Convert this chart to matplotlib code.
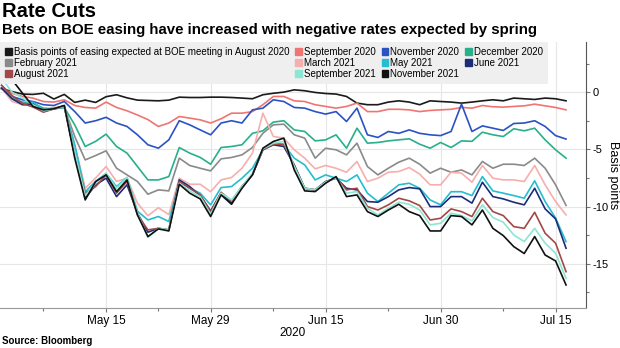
import pandas as pd
import matplotlib
matplotlib.use('Agg')
import matplotlib.pyplot as plt
import matplotlib.patches as mpatches
from matplotlib.ticker import FixedLocator, MultipleLocator

plt.rcParams['font.family'] = ['Liberation Sans Narrow', 'Liberation Sans', 'DejaVu Sans']
plt.rcParams['axes.unicode_minus'] = False

# business days 1 May - 16 Jul 2020
dates = pd.bdate_range('2020-05-01', '2020-07-16')
tick_dates = ['2020-05-15', '2020-05-29', '2020-06-15', '2020-06-30', '2020-07-15']
tick_labels = ['May 15', 'May 29', 'Jun 15', 'Jun 30', 'Jul 15']
minor_dates = ['2020-05-07', '2020-05-22', '2020-06-08', '2020-06-23', '2020-07-08']

aug20 = [0.3, 0.05, -0.17, -0.2, -0.1, -0.6, -0.2, -0.9, -0.7, -0.9, -0.4, -0.23, -0.5, -0.7, -0.73, -0.76, -0.7, -0.44, -0.47,
         -0.47, -0.44, -0.44, -0.47, -0.52, -0.58, -0.23, -0.1, 0.0, 0.2, 0.12, -0.03, -0.12, -0.17, -0.38, -0.96, -1.1, -1.1, -0.87,
         -0.76, -0.87, -1.1, -0.76, -0.82, -0.87, -0.96, -0.87, -0.76, -0.67, -0.76, -0.52, -0.58, -0.64, -0.52, -0.58, -0.76]
sep20 = [0.35, -0.1, -0.38, -0.52, -0.82, -0.87, -0.67, -1.17, -1.34, -1.4, -0.87, -1.34, -1.63, -2.0, -2.4, -3.0, -2.7, -2.13, -2.27,
         -2.42, -2.7, -2.33, -1.84, -1.84, -1.7, -1.1, -0.38, -0.38, -0.76, -0.82, -1.1, -1.25, -1.4, -1.25, -0.96, -1.7, -1.7, -1.5,
         -1.5, -1.55, -1.7, -1.6, -1.55, -1.5, -1.34, -1.4, -1.17, -1.28, -1.31, -1.25, -1.2, -1.05, -1.2, -1.34, -1.55]
nov20 = [0.35, -0.38, -0.67, -0.82, -1.1, -1.17, -0.82, -1.7, -2.7, -2.5, -2.2, -2.7, -3.0, -3.73, -4.6, -4.9, -4.17, -2.5, -2.86,
         -3.3, -3.73, -2.7, -2.5, -2.7, -1.55, -1.4, -0.67, -0.82, -1.34, -1.4, -1.7, -1.92, -1.7, -2.57, -1.4, -3.73, -3.96, -3.44,
         -3.6, -3.3, -3.6, -3.73, -3.8, -3.44, -1.05, -3.44, -2.95, -3.15, -3.35, -2.74, -2.7, -2.5, -3.0, -3.8, -4.1]
dec20 = [0.35, -0.52, -0.87, -0.96, -1.4, -1.46, -1.34, -2.86, -4.75, -4.3, -3.67, -4.75, -5.33, -6.5, -7.67, -7.67, -7.38, -4.84, -5.33,
         -5.7, -6.3, -4.84, -4.75, -4.6, -3.6, -3.38, -2.62, -2.5, -3.3, -3.44, -4.26, -4.17, -3.73, -4.9, -3.15, -4.46, -4.4, -4.26,
         -4.17, -4.08, -4.55, -4.9, -4.4, -4.84, -4.26, -4.3, -3.5, -3.73, -3.88, -3.2, -3.38, -3.15, -4.17, -5.04, -5.77]
feb21 = [0.35, -0.58, -0.96, -1.17, -1.55, -1.46, -1.34, -3.88, -5.92, -5.54, -5.13, -6.65, -7.23, -7.81, -8.92, -8.54, -8.63, -5.77, -6.41,
         -6.65, -6.88, -5.83, -5.71, -5.48, -4.84, -3.59, -2.86, -2.8, -3.73, -4.02, -5.77, -4.9, -5.04, -5.48, -4.46, -6.5, -7.23, -6.65,
         -6.12, -5.77, -6.3, -7.08, -6.65, -7.0, -6.8, -7.23, -6.06, -6.65, -6.3, -6.3, -6.41, -5.77, -6.65, -8.1, -9.9]
mar21 = [0.35, -0.82, -1.1, -1.17, -1.55, -1.34, -1.25, -4.6, -8.4, -7.5, -6.5, -7.81, -7.52, -9.7, -10.8, -10.1, -10.7, -7.52, -8.05,
         -8.05, -8.7, -7.67, -7.46, -6.65, -5.33, -1.84, -3.88, -4.02, -5.04, -5.77, -6.7, -6.41, -6.65, -7.0, -6.06, -7.81, -7.52, -7.0,
         -6.94, -6.59, -7.17, -8.1, -8.1, -7.0, -7.08, -7.87, -6.41, -7.52, -7.67, -7.67, -7.81, -6.41, -8.1, -9.56, -10.73]
may21 = [0.6, -0.38, -1.05, -0.87, -1.55, -1.4, -1.34, -4.6, -8.7, -7.8, -7.1, -8.25, -7.46, -10.4, -11.17, -10.87, -11.3, -7.81, -8.4,
         -8.83, -9.85, -8.34, -8.25, -7.52, -6.65, -5.04, -4.46, -4.6, -5.77, -6.36, -7.67, -7.23, -7.52, -7.81, -7.23, -8.83, -9.56, -8.83,
         -8.1, -7.96, -8.4, -9.42, -9.85, -8.7, -8.7, -9.04, -7.38, -8.63, -8.83, -9.04, -9.27, -7.75, -9.56, -11.0, -13.06]
jun21 = [0.35, -0.58, -1.1, -1.05, -1.7, -1.46, -1.17, -5.48, -9.27, -8.1, -7.52, -9.13, -8.1, -10.58, -12.24, -11.9, -12.04, -7.67, -8.25,
         -9.04, -10.38, -8.83, -9.7, -8.25, -7.23, -5.04, -4.6, -4.75, -6.36, -8.4, -8.54, -7.81, -7.52, -8.4, -8.54, -9.56, -9.62, -9.13,
         -8.54, -8.34, -8.45, -10.0, -10.0, -9.13, -9.13, -9.7, -7.87, -9.13, -9.33, -9.62, -9.85, -8.4, -10.2, -11.08, -13.64]
aug21 = [0.6, -0.3, -1.0, -1.3, -1.75, -1.46, -1.25, -5.48, -8.83, -8.25, -7.23, -8.83, -7.81, -10.73, -12.04, -11.9, -12.04, -7.81, -8.4,
         -8.98, -10.44, -8.75, -9.5, -8.25, -7.17, -5.04, -4.55, -4.55, -6.41, -8.4, -8.54, -7.87, -7.46, -8.54, -8.4, -10.0, -10.3, -9.85,
         -9.27, -9.5, -9.91, -11.17, -11.02, -10.2, -10.44, -10.87, -9.27, -10.44, -10.79, -11.75, -11.9, -10.5, -12.33, -13.2, -15.69]
sep21 = [1.2, 0.0, -0.52, -1.1, -1.63, -1.46, -1.25, -5.33, -9.04, -7.96, -7.1, -8.4, -7.46, -10.58, -12.7, -11.9, -12.04, -7.96, -8.63,
         -9.13, -10.67, -8.83, -9.42, -8.25, -7.1, -4.96, -4.46, -4.31, -6.5, -8.4, -8.54, -7.87, -7.46, -8.83, -8.69, -10.15, -10.73, -10.15,
         -9.62, -9.8, -10.3, -11.6, -11.46, -10.58, -10.79, -11.25, -9.85, -10.96, -11.37, -12.48, -13.06, -11.9, -13.2, -14.08, -16.27]
nov21 = [2.0, 1.08, -0.09, -1.25, -1.55, -1.46, -1.17, -5.77, -9.42, -7.81, -7.23, -8.69, -7.67, -10.73, -12.62, -11.95, -12.13, -8.05, -8.83,
         -9.33, -10.87, -8.98, -9.8, -8.4, -7.23, -4.9, -4.31, -4.02, -6.8, -8.63, -8.69, -7.96, -7.38, -9.13, -8.98, -10.44, -10.87, -10.3,
         -9.8, -10.44, -10.79, -12.13, -12.13, -10.79, -10.87, -11.6, -10.3, -11.9, -12.54, -13.5, -14.1, -12.62, -14.23, -14.75, -16.85]

series = [
    ('Basis points of easing expected at BOE meeting in August 2020', aug20, '#1a1a1a'),
    ('September 2020', sep20, '#f07472'),
    ('November 2020', nov20, '#2a52c4'),
    ('December 2020', dec20, '#27b08a'),
    ('February 2021', feb21, '#8a8a8a'),
    ('March 2021', mar21, '#f6afad'),
    ('May 2021', may21, '#25bdd0'),
    ('June 2021', jun21, '#1b2c78'),
    ('August 2021', aug21, '#a34848'),
    ('September 2021', sep21, '#8be6d3'),
    ('November 2021', nov21, '#111111'),
]

fig = plt.figure(figsize=(6.2, 3.48), dpi=100)
ax = fig.add_axes([0, 0.115, 0.945, 0.764])

x = list(range(len(dates)))
for name, vals, col in series:
    ax.plot(x, vals, color=col, lw=1.2)

pos = {d.strftime('%Y-%m-%d'): i for i, d in enumerate(dates)}
ax.set_xticks([pos[d] for d in tick_dates])
ax.set_xticklabels(tick_labels, fontsize=8.5)
ax.xaxis.set_minor_locator(FixedLocator([pos[d] for d in minor_dates]))
ax.set_xlim(-0.15, 55.9)
ax.set_ylim(-18.86, 4.37)

ax.yaxis.tick_right()
ax.set_yticks([0, -5, -10, -15])
ax.set_yticklabels(['0', '-5', '-10', '-15'], fontsize=8)
ax.yaxis.set_minor_locator(MultipleLocator(2.5))
ax.set_xlabel('2020', fontsize=8.5, labelpad=0)
# y title placed by hand so it stays inside the canvas
fig.text(0.989, 0.497, 'Basis points', rotation=270, fontsize=9, ha='center', va='center')

ax.grid(True, color='#e6e6e6', lw=0.8)
ax.set_axisbelow(True)
for s in ['top', 'left']:
    ax.spines[s].set_visible(False)
ax.spines['right'].set_color('#555555')
ax.spines['bottom'].set_color('#999999')
ax.tick_params(axis='both', which='both', length=3, width=0.8, color='#777777', pad=2)
ax.tick_params(axis='y', which='major', pad=1.5)
ax.tick_params(axis='x', which='minor', length=2)
ax.tick_params(axis='y', which='minor', length=2)

# legend laid out row by row like the original
order = [0, 4, 8, 1, 5, 9, 2, 6, 10, 3, 7]
handles = [mpatches.Patch(color=series[i][2], label=series[i][0]) for i in order]
leg = ax.legend(handles=handles, loc='upper left', bbox_to_anchor=(0, 1, 548 / 586, 0.0),
                mode='expand', ncol=4, fontsize=7, frameon=True, fancybox=False,
                borderaxespad=0, borderpad=0.5, handlelength=0.7, handleheight=0.7,
                handletextpad=0.2, columnspacing=0.4, labelspacing=0.1)
leg.get_frame().set_facecolor('#efefef')
leg.get_frame().set_edgecolor('none')
leg.get_frame().set_alpha(1)

fig.text(0.004, 0.995, 'Rate Cuts', fontsize=14.5, weight='bold', va='top', ha='left')
fig.text(0.004, 0.933, 'Bets on BOE easing have increased with negative rates expected by spring',
         fontsize=10.8, weight='bold', va='top', ha='left')
fig.text(0.004, 0.02, 'Source: Bloomberg', fontsize=7, weight='bold', va='center', ha='left')

fig.savefig('out.png', dpi=100)
